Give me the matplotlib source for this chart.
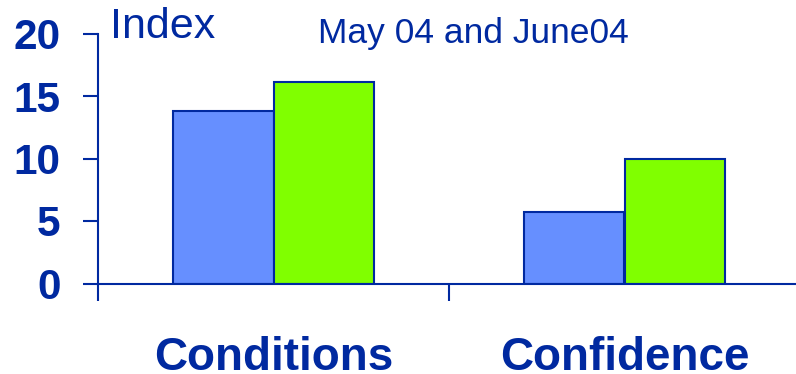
"""Index bar chart: Conditions vs Confidence, May 04 and June 04."""

import matplotlib.pyplot as plt
import matplotlib.transforms as mtransforms
import numpy as np

plt.rcParams["font.family"] = ["Liberation Sans", "DejaVu Sans"]

categories = ["Conditions", "Confidence"]
may_04 = [13.8, 5.7]
june_04 = [16.1, 10.0]
y_ticks = [0, 5, 10, 15, 20]

NAVY = "#0029a0"
BLUE = "#668fff"
GREEN = "#80ff00"

fig = plt.figure(figsize=(7.96, 3.74), dpi=100)
ax = fig.add_axes([98 / 796, 90.5 / 374, 702 / 796, 250 / 374])

x = np.arange(len(categories))
width = 0.285
ax.bar(x - width / 2, may_04, width, color=BLUE, edgecolor=NAVY, linewidth=1.5)
ax.bar(x + width / 2, june_04, width, color=GREEN, edgecolor=NAVY, linewidth=1.5)

ax.set_xlim(-0.5, len(categories) - 0.5)
ax.set_ylim(0, 20)

for side in ("top", "right"):
    ax.spines[side].set_visible(False)
for side in ("left", "bottom"):
    ax.spines[side].set_color(NAVY)
    ax.spines[side].set_linewidth(1.5)

ax.set_yticks(y_ticks)
ax.set_yticklabels([str(v) for v in y_ticks], fontsize=30.5, fontweight="bold", color=NAVY)
ax.tick_params(axis="y", length=11, width=1.5, color=NAVY, pad=16)

# category separators below the axis
ax.set_xticks(np.arange(-0.5, len(categories)))
ax.set_xticklabels([])
ax.tick_params(axis="x", length=12, width=1.5, color=NAVY, direction="out")

trans = mtransforms.blended_transform_factory(ax.transData, ax.transAxes)
for xi, name in zip(x, categories):
    ax.text(xi, -87 / 250, name, transform=trans, ha="center", va="baseline",
            fontsize=33, fontweight="bold", color=NAVY)

fig.text(110 / 796, 1 - 37.7 / 374, "Index", fontsize=31, color=NAVY, va="baseline")
fig.text(318 / 796, 1 - 43 / 374, "May 04 and June04", fontsize=25.5, color=NAVY,
         va="baseline")

fig.savefig("out.png", dpi=100)
